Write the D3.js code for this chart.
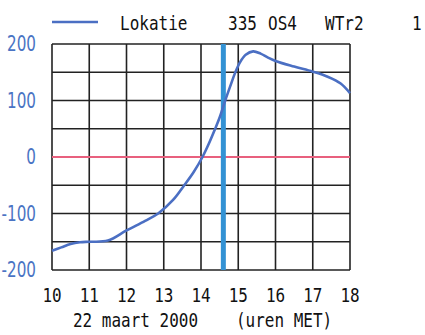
<!DOCTYPE html>
<html><head><meta charset="utf-8">
<script src="https://cdn.jsdelivr.net/npm/d3@7"></script>
<style>html,body{margin:0;padding:0;background:#fff;}svg{display:block;}</style>
</head><body>
<svg id="c" width="425" height="335"></svg>
<script>
const hours = [10,10.25,10.5,10.75,11,11.5,12,12.5,12.85,13.25,13.55,13.8,14.04,14.2,14.38,14.5,14.64,14.8,14.91,15.05,15.2,15.4,15.6,15.8,16,16.5,17,17.4,17.75,18];
const values = [-166,-160,-154,-151,-150,-148,-130,-113,-100,-76,-50,-27,0,22,50,70,98,128,148,168,181,187,183,176,170,160,151,142,130,113];
const xTicks = [10,11,12,13,14,15,16,17,18];
const yTicks = [-200,-100,0,100,200];
const yGrid = [-200,-150,-100,-50,0,50,100,150,200];
const markerHour = [14.6];
const titleParts = ["Lokatie","335","OS4","WTr2","1"];

const svg = d3.select("#c");
const x = d3.scaleLinear().domain([10,18]).range([52,350]);
const y = d3.scaleLinear().domain([-200,200]).range([270,44]);

// grid
svg.append("g").selectAll("line").data(xTicks).join("line")
  .attr("x1",d=>x(d)).attr("x2",d=>x(d)).attr("y1",y(200)).attr("y2",y(-200))
  .attr("stroke","#222").attr("stroke-width",1.6);
svg.append("g").selectAll("line").data(yGrid).join("line")
  .attr("x1",x(10)).attr("x2",x(18)).attr("y1",d=>y(d)).attr("y2",d=>y(d))
  .attr("stroke","#222").attr("stroke-width",1.6);

// zero line
svg.append("line").attr("x1",x(10)).attr("x2",x(18)).attr("y1",y(0)).attr("y2",y(0))
  .attr("stroke","#e8607e").attr("stroke-width",2);

// marker
svg.selectAll(".mk").data(markerHour).join("line").attr("class","mk")
  .attr("x1",d=>x(d)).attr("x2",d=>x(d)).attr("y1",y(200)).attr("y2",y(-200))
  .attr("stroke","#3392d4").attr("stroke-width",5);

// curve
const pts = hours.map((h,i)=>[h,values[i]]);
svg.append("path").datum(pts)
  .attr("d",d3.line().x(d=>x(d[0])).y(d=>y(d[1])).curve(d3.curveCatmullRom.alpha(0.5)))
  .attr("fill","none").attr("stroke","#4b6fc3").attr("stroke-width",2.6);

// y labels
svg.append("g").selectAll("text").data(yTicks).join("text")
  .attr("transform",d=>`translate(36,${y(d)+7}) scale(0.95,1.3)`)
  .attr("text-anchor","end")
  .text(d=>d<0?"-"+Math.abs(d):String(d))
  .attr("fill","#4a74c4").attr("font-family","DejaVu Sans").attr("font-size",16);

// x labels
svg.append("g").selectAll("text").data(xTicks).join("text")
  .attr("transform",d=>`translate(${x(d)},302) scale(1,1.22)`)
  .attr("text-anchor","middle").text(d=>d)
  .attr("fill","#111").attr("font-family","DejaVu Sans Mono").attr("font-size",16);

// title/legend
svg.append("line").attr("x1",52).attr("x2",98).attr("y1",22).attr("y2",22)
  .attr("stroke","#4b6fc3").attr("stroke-width",2.6);
const tx = [120,228,268,325,412];
svg.selectAll(".tt").data(titleParts).join("text").attr("class","tt")
  .attr("transform",(d,i)=>`translate(${tx[i]},30) scale(1,1.25)`).text(d=>d)
  .attr("font-family","DejaVu Sans Mono").attr("font-size",16).attr("fill","#111");

svg.append("text").attr("transform","translate(73,327) scale(1,1.22)").text("22 maart 2000")
  .attr("font-family","DejaVu Sans Mono").attr("font-size",16).attr("fill","#111");
svg.append("text").attr("transform","translate(236,327) scale(1,1.22)").text("(uren MET)")
  .attr("font-family","DejaVu Sans Mono").attr("font-size",16).attr("fill","#111");
</script>
</body></html>
